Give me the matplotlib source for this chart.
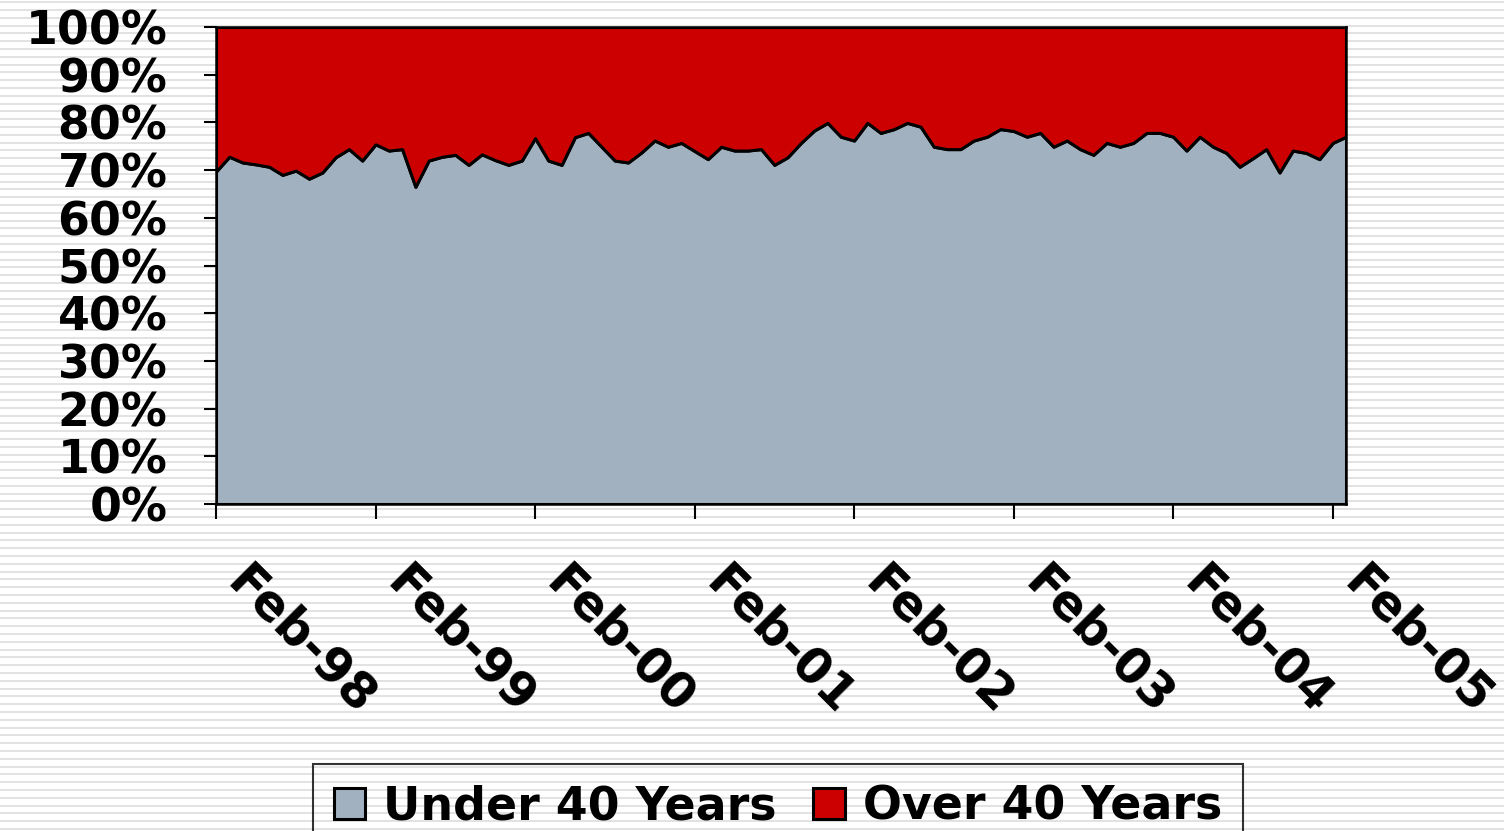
import numpy as np
import matplotlib.pyplot as plt
import matplotlib.transforms as mtransforms
from matplotlib.lines import Line2D
from matplotlib.ticker import PercentFormatter

# share of staff under 40, monthly Feb-98 .. Mar-05 (percent)
under_40 = [69.7, 72.8, 71.6, 71.2, 70.7, 69.0, 69.9, 68.2, 69.5, 72.7, 74.4, 72.0,
            75.4, 74.1, 74.4, 66.5, 72.0, 72.8, 73.2, 71.1, 73.3, 72.1, 71.1, 72.0,
            76.7, 72.0, 71.1, 76.9, 77.8, 74.9, 72.0, 71.6, 73.7, 76.2, 74.9, 75.7,
            74.0, 72.3, 74.9, 74.1, 74.1, 74.4, 71.1, 72.7, 75.7, 78.3, 79.9, 77.0,
            76.2, 79.9, 77.8, 78.6, 79.9, 79.1, 74.9, 74.4, 74.4, 76.2, 77.0, 78.6,
            78.2, 77.0, 77.8, 74.9, 76.2, 74.4, 73.2, 75.7, 74.9, 75.7, 77.8, 77.8,
            77.0, 74.1, 77.0, 74.9, 73.6, 70.7, 72.5, 74.4, 69.5, 74.1, 73.6, 72.3,
            75.7, 77.0]
over_40 = [100 - v for v in under_40]
tick_labels = ['Feb-98', 'Feb-99', 'Feb-00', 'Feb-01', 'Feb-02', 'Feb-03', 'Feb-04', 'Feb-05']
series_names = ['Under 40 Years', 'Over 40 Years']

months = np.arange(len(under_40))

plt.rcParams['font.family'] = ['DejaVu Sans']
plt.rcParams['font.weight'] = 'bold'

fig = plt.figure(figsize=(15.04, 8.31), dpi=100)

# striped slide background
for y in np.arange(2, 831, 7.8):
    fig.add_artist(Line2D([0, 1], [y / 831, y / 831], color='#e2e2e2', lw=1.4, zorder=-5))

ax = fig.add_axes([216 / 1504, 327 / 831, 1130 / 1504, 477 / 831])
ax.stackplot(months, under_40, over_40, colors=['#a2b1c0', '#cc0000'],
             edgecolor='black', linewidth=2.2, labels=series_names)

ax.set_xlim(0, len(under_40) - 1)
ax.set_ylim(0, 100)
ax.set_yticks(np.arange(0, 101, 10))
ax.yaxis.set_major_formatter(PercentFormatter(100, decimals=0))
ax.set_xticks(months[::12])
ax.set_xticklabels(tick_labels, rotation=-45, ha='left', va='top', rotation_mode='anchor')

for s in ax.spines.values():
    s.set_linewidth(1.8)
ax.tick_params(axis='y', direction='out', length=9, width=1.5, pad=26, labelsize=33)
ax.tick_params(axis='x', direction='out', length=11, width=1.5, pad=28, labelsize=35)

offset = mtransforms.ScaledTranslation(0.36, 0, fig.dpi_scale_trans)
for lbl in ax.get_xticklabels():
    lbl.set_transform(lbl.get_transform() + offset)

leg = fig.legend(loc='upper center', bbox_to_anchor=(778 / 1504, 67 / 831), ncol=2,
                 frameon=True, fancybox=False, edgecolor='black',
                 fontsize=33, handlelength=0.68, handleheight=0.68, handletextpad=0.4,
                 columnspacing=0.8, borderpad=0.45, borderaxespad=0)
leg.get_frame().set_facecolor('none')
leg.get_frame().set_linewidth(1.5)

fig.savefig('out.png', dpi=100)
